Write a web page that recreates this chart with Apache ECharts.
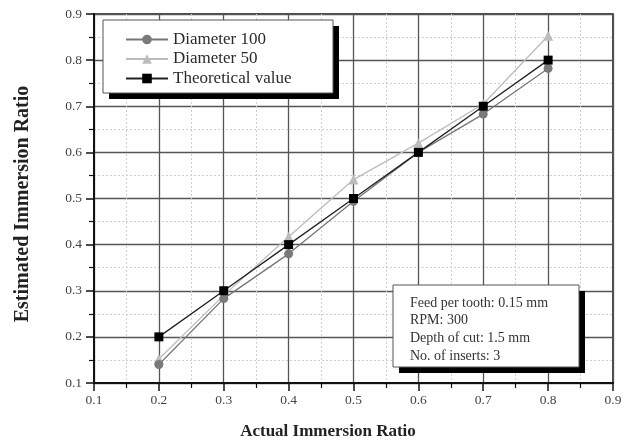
<!DOCTYPE html>
<html><head><meta charset="utf-8">
<script src="https://cdn.jsdelivr.net/npm/echarts@6/dist/echarts.min.js"></script>
<style>html,body{margin:0;padding:0;background:#fff}#c{width:633px;height:445px}</style>
</head><body><div id="c"></div>
<script>
const xValues = [0.2, 0.3, 0.4, 0.5, 0.6, 0.7, 0.8];
const diameter100 = [0.14, 0.283, 0.38, 0.494, 0.60, 0.683, 0.782];
const diameter50 = [0.152, 0.29, 0.417, 0.541, 0.62, 0.705, 0.853];
const theoretical = [0.2, 0.3, 0.4, 0.5, 0.6, 0.7, 0.8];
const seriesNames = ['Diameter 100', 'Diameter 50', 'Theoretical value'];
const noteLines = ['Feed per tooth: 0.15 mm', 'RPM: 300', 'Depth of cut: 1.5 mm', 'No. of inserts: 3'];

const serif = '"Liberation Serif","DejaVu Serif",serif';
const pair = a => xValues.map((x, i) => [x, a[i]]);

const chart = echarts.init(document.getElementById('c'));
const axisCommon = {
  type: 'value', min: 0.1, max: 0.9, interval: 0.1,
  axisLine: { show: true, lineStyle: { color: '#111', width: 2 } },
  axisTick: { show: true, length: 8, lineStyle: { color: '#111', width: 1.5 } },
  minorTick: { show: true, splitNumber: 2, length: 5, lineStyle: { color: '#111', width: 1.2 } },
  splitLine: { show: true, lineStyle: { color: '#555', width: 1.3 } },
  minorSplitLine: { show: true, lineStyle: { color: '#cfcfcf', width: 1, type: [2, 2] } },
  axisLabel: { color: '#444', fontFamily: serif, fontSize: 13.5, formatter: v => v.toFixed(1) }
};
chart.setOption({
  animation: false,
  backgroundColor: '#fff',
  grid: { left: 94, right: 20, top: 14, bottom: 62, show: true, borderColor: '#111', borderWidth: 1.5, backgroundColor: 'transparent' },
  xAxis: Object.assign({}, axisCommon, { axisLabel: Object.assign({}, axisCommon.axisLabel, { margin: 10 }) }),
  yAxis: Object.assign({}, axisCommon, { axisLabel: Object.assign({}, axisCommon.axisLabel, { margin: 12 }) }),
  legend: {
    orient: 'vertical', left: 120, top: 26, z: 20,
    itemWidth: 42, itemHeight: 12, itemGap: 2.5,
    textStyle: { fontFamily: serif, fontSize: 17, color: '#2a2a2a', padding: [0, 0, 0, 0] },
    data: seriesNames
  },
  series: [
    { name: seriesNames[0], type: 'line', data: pair(diameter100), symbol: 'circle', symbolSize: 9,
      lineStyle: { color: '#777', width: 1.3 }, itemStyle: { color: '#7a7a7a' }, z: 3 },
    { name: seriesNames[1], type: 'line', data: pair(diameter50), symbol: 'triangle', symbolSize: 10,
      lineStyle: { color: '#bcbcbc', width: 1.3 }, itemStyle: { color: '#bcbcbc' }, z: 2 },
    { name: seriesNames[2], type: 'line', data: pair(theoretical), symbol: 'rect', symbolSize: 9,
      lineStyle: { color: '#222', width: 1.3 }, itemStyle: { color: '#000' }, z: 4 }
  ],
  graphic: [
    { type: 'rect', z: 10, shape: { x: 109, y: 26, width: 230, height: 73 }, style: { fill: '#000' } },
    { type: 'rect', z: 11, shape: { x: 103, y: 20, width: 230, height: 73 }, style: { fill: '#fff', stroke: '#555', lineWidth: 1 } },
    { type: 'rect', z: 10, shape: { x: 399, y: 291, width: 186, height: 82 }, style: { fill: '#000' } },
    { type: 'rect', z: 11, shape: { x: 393, y: 285, width: 186, height: 82 }, style: { fill: '#fff', stroke: '#555', lineWidth: 1 } },
    { type: 'text', z: 12, left: 410, top: 294, style: { text: noteLines.join('\n'), font: '14px ' + serif, fill: '#333', lineHeight: 17.7 } },
    { type: 'text', z: 12, x: 328, y: 432, style: { text: 'Actual Immersion Ratio', font: 'bold 17px ' + serif, fill: '#222', align: 'center', verticalAlign: 'middle' } },
    { type: 'text', z: 12, x: 23, y: 204, rotation: Math.PI / 2, style: { text: 'Estimated Immersion Ratio', font: 'bold 20px ' + serif, fill: '#222', align: 'center', verticalAlign: 'middle' } }
  ]
});
</script></body></html>
